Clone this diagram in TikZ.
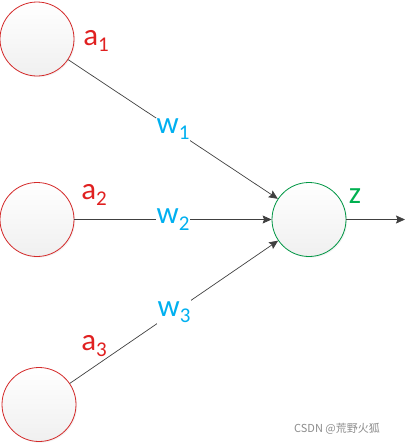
\documentclass[tikz,border=0pt]{standalone}
\usepackage{fontspec}
\setmainfont{Carlito}
\newfontfamily\cjkfont{Noto Sans CJK SC}
\usetikzlibrary{arrows.meta,shadows}
\definecolor{nred}{HTML}{E02020}
\definecolor{ncircred}{HTML}{D42A2A}
\definecolor{nblue}{HTML}{00B0F0}
\definecolor{ngreen}{HTML}{00B050}
\definecolor{nline}{HTML}{404040}
\tikzset{
  neuron/.style={circle, minimum size=74pt, inner sep=0pt, line width=0.8pt,
    top color=white, bottom color=black!6,
    drop shadow={opacity=0.10, shadow xshift=1.2pt, shadow yshift=-1.2pt}},
  inneuron/.style={neuron, draw=ncircred},
  outneuron/.style={neuron, draw=ngreen!85!black},
  conn/.style={draw=nline, line width=0.7pt, -{Stealth[length=9pt,width=8pt,inset=1.5pt]}},
  alab/.style={text=nred, font=\fontsize{31}{33}\selectfont, inner sep=1pt},
  wlab/.style={text=nblue, font=\fontsize{31}{33}\selectfont, fill=white, inner sep=1pt},
  zlab/.style={text=ngreen, font=\fontsize{31}{33}\selectfont, inner sep=1pt},
  wmark/.style={text=black!45, font=\cjkfont\fontsize{11}{13}\selectfont, inner sep=0pt}
}
\newcommand{\sbs}[1]{\raisebox{-0.2em}{\fontsize{21}{22}\selectfont #1}}
\begin{document}
\begin{tikzpicture}[x=1pt,y=-1pt]
\useasboundingbox (0,0) rectangle (406,445);
\node[inneuron] (x1) at (37,39) {};
\node[inneuron] (x2) at (37,219.5) {};
\node[inneuron] (x3) at (39,404.5) {};
\node[outneuron] (y) at (309,219.5) {};
\coordinate (out) at (405,219.5);
\draw[conn] (x1) -- node[wlab] (w1) {w\sbs{1}} (y);
\draw[conn] (x2) -- node[wlab] (w2) {w\sbs{2}} (y);
\draw[conn] (x3) -- node[wlab] (w3) {w\sbs{3}} (y);
\draw[conn] (y) -- (out);
\node[alab] (a1) at (96,41) {a\sbs{1}};
\node[alab] (a2) at (94,195) {a\sbs{2}};
\node[alab] (a3) at (94,346) {a\sbs{3}};
\node[zlab] (z) at (355,196) {z};
\node[wmark] (wm) at (337,429) {CSDN @荒野火狐};
\end{tikzpicture}
\end{document}
